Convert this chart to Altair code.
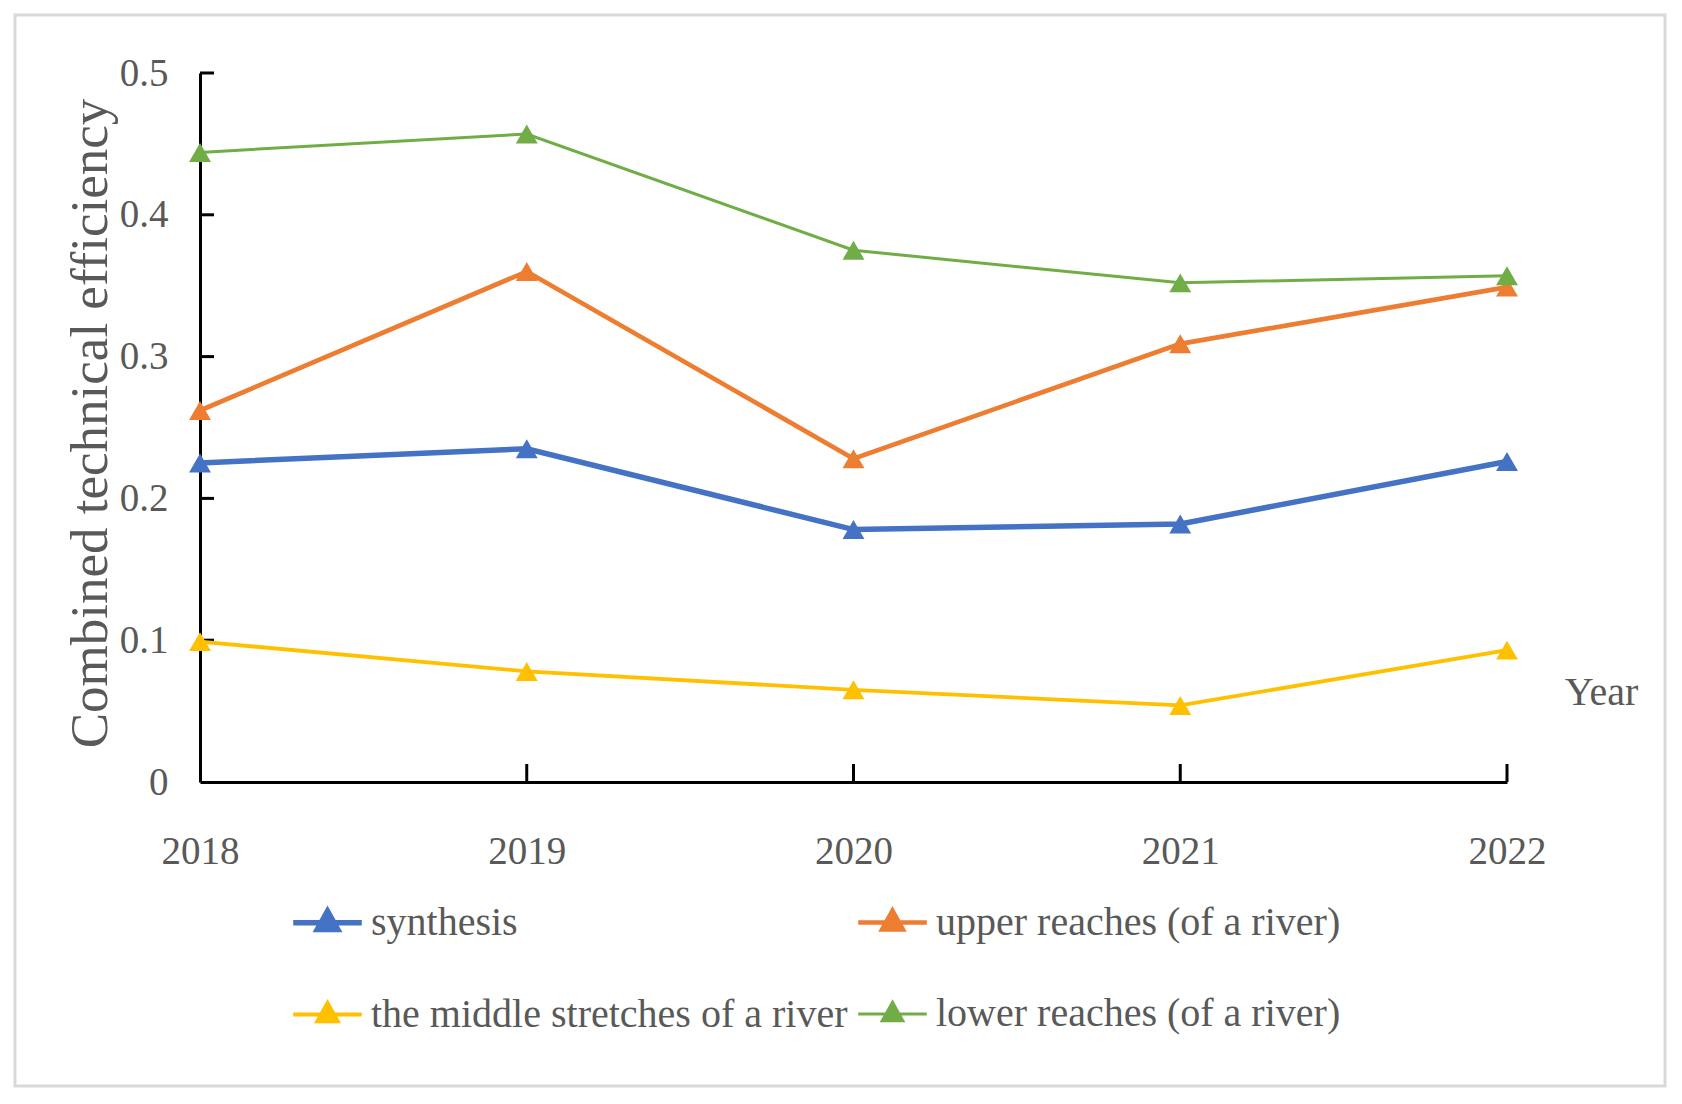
import altair as alt
import pandas as pd

years = [2018, 2019, 2020, 2021, 2022]
series_names = ["synthesis", "upper reaches (of a river)",
                "the middle stretches of a river", "lower reaches (of a river)"]
synthesis = [0.225, 0.235, 0.178, 0.182, 0.226]
upper = [0.262, 0.360, 0.228, 0.309, 0.349]
middle = [0.099, 0.078, 0.065, 0.054, 0.093]
lower = [0.444, 0.457, 0.375, 0.352, 0.357]
colors = ["#4472C4", "#ED7D31", "#FFC000", "#70AD47"]
widths = [5.5, 3, 3, 3]
y_ticks = [0.1, 0.2, 0.3, 0.4, 0.5]
x_ticks = [2019, 2020, 2021, 2022]

rows = []
for name, vals in zip(series_names, [synthesis, upper, middle, lower]):
    for yr, v in zip(years, vals):
        rows.append({"Year": yr, "value": v, "series": name})
df = pd.DataFrame(rows)

FONT = "Liberation Serif"
GREY = "#595959"

x_enc = alt.X("Year:Q", scale=alt.Scale(domain=[2018, 2022], nice=False, zero=False),
              axis=alt.Axis(values=years, format="d", title="Year", ticks=False,
                            grid=False, domainColor="black", domainWidth=3,
                            labelFont=FONT, labelFontSize=39, labelColor=GREY,
                            labelPadding=50, labelFlush=False,
                            titleFont=FONT, titleFontSize=40, titleColor=GREY,
                            titleFontWeight="normal", titleX=1401, titleY=-90,
                            titleAlign="center", titleBaseline="middle"))
y_enc = alt.Y("value:Q", scale=alt.Scale(domain=[0, 0.5], nice=False),
              axis=alt.Axis(values=[0, 0.1, 0.2, 0.3, 0.4, 0.5], format="~g",
                            title="Combined technical efficiency", ticks=False,
                            grid=False, domainColor="black", domainWidth=3,
                            labelFont=FONT, labelFontSize=39, labelColor=GREY,
                            labelPadding=32,
                            titleFont=FONT, titleFontSize=53, titleColor=GREY,
                            titleFontWeight="normal", titleX=-110, titleY=350,
                            titleAngle=-90, titleAlign="center",
                            titleBaseline="middle"))

color_enc = alt.Color("series:N",
                      scale=alt.Scale(domain=series_names, range=colors),
                      legend=alt.Legend(
                          title=None, orient="none", legendX=90, legendY=812,
                          columns=2, columnPadding=0, rowPadding=35,
                          direction="horizontal",
                          symbolType="M-1,0L1,0M0,-0.34L0.3,0.2L-0.3,0.2Z",
                          symbolSize=4700, symbolStrokeWidth=3.5,
                          symbolOpacity=1,
                          labelFont=FONT, labelFontSize=40, labelColor=GREY,
                          labelOffset=6, labelLimit=800, padding=0))

frame_df = pd.DataFrame({"k": [0]})
frame = alt.Chart(frame_df).mark_rect(fillOpacity=0, stroke="#d9d9d9", strokeWidth=3).encode(
    x=alt.value(-185), x2=alt.value(1465), y=alt.value(-58), y2=alt.value(1013))

lines = alt.Chart(df).mark_line().encode(
    x=x_enc, y=y_enc, color=color_enc,
    strokeWidth=alt.StrokeWidth("series:N", scale=alt.Scale(domain=series_names, range=widths), legend=None),
)
points = alt.Chart(df).mark_point(shape="triangle-up", filled=True, size=480, opacity=1).encode(
    x="Year:Q", y="value:Q", color=alt.Color("series:N", scale=alt.Scale(domain=series_names, range=colors)),
)

ytick_df = pd.DataFrame({"Year": [2018] * len(y_ticks), "value": y_ticks})
yticks = alt.Chart(ytick_df).mark_tick(orient="horizontal", color="black", thickness=3, size=14, xOffset=7, opacity=1).encode(
    x="Year:Q", y="value:Q")
xtick_df = pd.DataFrame({"Year": x_ticks, "value": [0] * len(x_ticks)})
xticks = alt.Chart(xtick_df).mark_tick(orient="vertical", color="black", thickness=3, size=18, yOffset=-9, opacity=1).encode(
    x="Year:Q", y="value:Q")

chart = alt.layer(frame, yticks, xticks, lines, points).properties(
    width=1307, height=709,
    autosize=alt.AutoSizeParams(type="none"),
    padding={"left": 192, "top": 65, "right": 167, "bottom": 312},
    background="white",
).configure_view(stroke=None)

chart.save("out.html", embed_options={"renderer": "svg", "actions": False})
